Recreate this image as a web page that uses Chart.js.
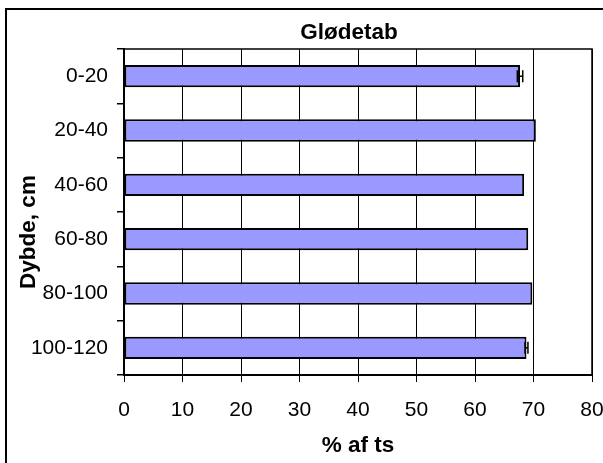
<!DOCTYPE html>
<html>
<head>
<meta charset="utf-8">
<script src="https://cdn.jsdelivr.net/npm/chart.js@4"></script>
<style>
    html, body { margin: 0; padding: 0; background: #fff; overflow: hidden; }
    #wrap { position: relative; width: 603px; height: 463px; }
</style>
</head>
<body>
<div id="wrap"><canvas id="c" width="603" height="463"></canvas></div>
<script>
// Chart data
const depths = ['0-20', '20-40', '40-60', '60-80', '80-100', '100-120'];
const lossOnIgnition = [67.7, 70.4, 68.4, 69.1, 69.8, 68.8];
const errors = [0.46, 0, 0, 0, 0, 0.25];
const xTicks = [0, 10, 20, 30, 40, 50, 60, 70, 80];

const FONT = 'Arial, "Liberation Sans", sans-serif';

// Outer frame, chart title, y-axis title and plot border
const framePlugin = {
    id: 'frame',
    beforeDraw(chart) {
        const ctx = chart.ctx;
        ctx.save();
        ctx.fillStyle = '#fff';
        ctx.fillRect(0, 0, chart.width, chart.height);
        ctx.strokeStyle = '#000';
        ctx.lineWidth = 2;
        ctx.strokeRect(6, 9, 800, 600);
        ctx.fillStyle = '#000';
        ctx.font = 'bold 22.5px ' + FONT;
        ctx.textAlign = 'center';
        ctx.textBaseline = 'middle';
        ctx.fillText('Glødetab', 349, 33);
        // y-axis title, Excel puts it a bit lower than the plot centre
        ctx.translate(29, 232);
        ctx.rotate(-Math.PI / 2);
        ctx.fillText('Dybde, cm', 0, 0);
        ctx.restore();
    },
    afterDraw(chart) {
        const a = chart.chartArea;
        const ctx = chart.ctx;
        ctx.save();
        ctx.strokeStyle = '#000';
        ctx.lineWidth = 1.5;
        ctx.beginPath();
        ctx.moveTo(a.left, a.top);
        ctx.lineTo(a.right, a.top);
        ctx.lineTo(a.right, a.bottom);
        ctx.stroke();
        ctx.restore();
    }
};

// Error bars drawn through the scales
const errorBarPlugin = {
    id: 'errorBars',
    afterDatasetsDraw(chart) {
        const ctx = chart.ctx;
        const xs = chart.scales.x;
        const meta = chart.getDatasetMeta(0);
        ctx.save();
        ctx.strokeStyle = '#000';
        ctx.lineWidth = 1.5;
        meta.data.forEach((bar, i) => {
            const e = errors[i];
            if (!e) return;
            const v = lossOnIgnition[i];
            const x1 = xs.getPixelForValue(v - e);
            const x2 = xs.getPixelForValue(v + e);
            const y = bar.y;
            const h = 6;
            ctx.beginPath();
            ctx.moveTo(x1, y); ctx.lineTo(x2, y);
            ctx.moveTo(x1, y - h); ctx.lineTo(x1, y + h);
            ctx.moveTo(x2, y - h); ctx.lineTo(x2, y + h);
            ctx.stroke();
        });
        ctx.restore();
    }
};

new Chart(document.getElementById('c').getContext('2d'), {
    type: 'bar',
    data: {
        labels: depths,
        datasets: [{
            data: lossOnIgnition,
            backgroundColor: '#9999FF',
            borderColor: '#000',
            borderWidth: 2,
            borderSkipped: false,
            barPercentage: 0.41,
            categoryPercentage: 1
        }]
    },
    options: {
        indexAxis: 'y',
        responsive: false,
        animation: false,
        devicePixelRatio: 1,
        layout: { padding: { top: 49, right: 11, left: 0, bottom: 0 } },
        plugins: {
            legend: { display: false },
            tooltip: { enabled: false }
        },
        scales: {
            x: {
                min: 0,
                max: 80,
                afterBuildTicks: (scale) => {
                    scale.ticks = xTicks.map(v => ({ value: v }));
                },
                afterFit: (scale) => {
                    // let the "80" label hang over the edge instead of shrinking the plot
                    scale.height = 88;
                    scale.paddingLeft = 0;
                    scale.paddingRight = 0;
                },
                border: { color: '#000', width: 2 },
                grid: {
                    color: '#000',
                    lineWidth: 1,
                    tickLength: 7,
                    tickColor: '#000'
                },
                ticks: {
                    color: '#000',
                    font: { family: FONT, size: 21 },
                    padding: 16,
                    maxRotation: 0
                },
                title: {
                    display: true,
                    text: '% af ts',
                    color: '#000',
                    font: { family: FONT, size: 22.5, weight: 'bold' },
                    padding: { top: 0, bottom: 4 }
                }
            },
            y: {
                offset: true,
                afterFit: (scale) => { scale.width = 124; },
                border: { color: '#000', width: 2 },
                grid: {
                    offset: true,
                    drawOnChartArea: false,
                    tickLength: 7,
                    tickColor: '#000',
                    lineWidth: 1.5
                },
                ticks: {
                    color: '#000',
                    font: { family: FONT, size: 21 },
                    padding: 9
                }
            }
        }
    },
    plugins: [framePlugin, errorBarPlugin]
});
</script>
</body>
</html>
